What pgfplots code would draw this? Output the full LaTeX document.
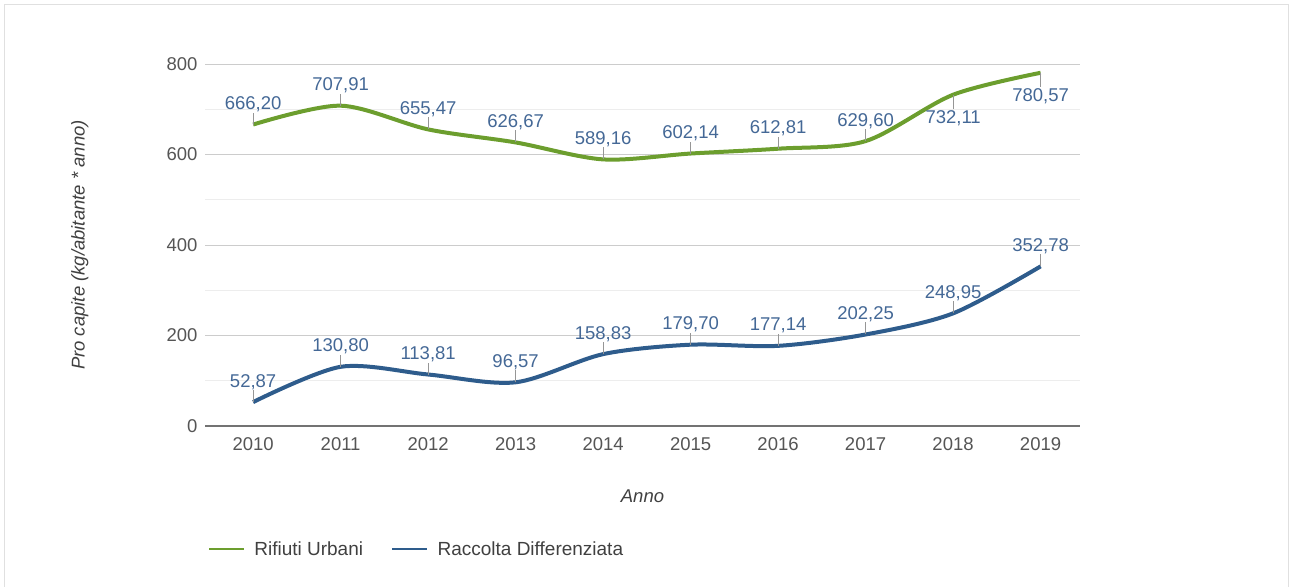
\documentclass[border=0pt]{standalone}
\usepackage{fontspec}
\setmainfont{Liberation Sans}
\usepackage{pgfplots}
\usepackage{pgfplotstable}
\pgfplotsset{compat=1.18}
\definecolor{ruGreen}{RGB}{108,158,46}
\definecolor{rdBlue}{RGB}{46,92,140}
\definecolor{lblBlue}{RGB}{68,104,150}
\definecolor{tickGray}{RGB}{85,85,85}
\definecolor{stemGray}{RGB}{150,150,150}
\pgfdeclareplotmark{stemup}{\pgfpathmoveto{\pgfpoint{0pt}{0pt}}\pgfpathlineto{\pgfpoint{0pt}{12pt}}\pgfusepathqstroke}
\pgfdeclareplotmark{stemdown}{\pgfpathmoveto{\pgfpoint{0pt}{0pt}}\pgfpathlineto{\pgfpoint{0pt}{-14pt}}\pgfusepathqstroke}

\pgfplotstableread{
x y lab
2010 666.20 666,20
2011 707.91 707,91
2012 655.47 655,47
2013 626.67 626,67
2014 589.16 589,16
2015 602.14 602,14
2016 612.81 612,81
2017 629.60 629,60
2018 732.11 732,11
2019 780.57 780,57
}\ruData
\pgfplotstableread{
x y lab
2010 666.20 666,20
2011 707.91 707,91
2012 655.47 655,47
2013 626.67 626,67
2014 589.16 589,16
2015 602.14 602,14
2016 612.81 612,81
2017 629.60 629,60
}\ruAbove
\pgfplotstableread{
x y lab
2018 732.11 732,11
2019 780.57 780,57
}\ruBelow
\pgfplotstableread{
x y lab
2010 52.87 52,87
2011 130.80 130,80
2012 113.81 113,81
2013 96.57 96,57
2014 158.83 158,83
2015 179.70 179,70
2016 177.14 177,14
2017 202.25 202,25
2018 248.95 248,95
2019 352.78 352,78
}\rdData

\begin{document}
\begin{tikzpicture}[x=1pt,y=1pt]
\useasboundingbox (0,0) rectangle (1290,587);
\draw[black!12, line width=1pt] (4,0) -- (4,582) -- (1288,582) -- (1288,0);
\begin{axis}[
  at={(205pt,161pt)}, anchor=south west,
  scale only axis, width=875pt, height=362pt,
  xmin=2009.45, xmax=2019.45,
  ymin=0, ymax=800,
  xtick={2010,...,2019},
  ytick={0,200,...,800},
  minor y tick num=1,
  ymajorgrids, yminorgrids,
  major grid style={draw=black!20, line width=0.9pt},
  minor grid style={draw=black!7, line width=0.9pt},
  axis x line*=bottom, axis y line*=left,
  x axis line style={draw=black!55, line width=2pt, -},
  y axis line style={draw=none},
  major tick length=0pt, minor tick length=0pt,
  /pgf/number format/assume math mode=true,
  /pgf/number format/set thousands separator={},
  xticklabel style={font=\fontsize{18.5}{21}\selectfont, text=tickGray, yshift=-8pt},
  yticklabel style={font=\fontsize{18.5}{21}\selectfont, text=tickGray, xshift=-4pt},
  xlabel={Anno},
  xlabel style={at={(axis description cs:0.5,-0.193)}, anchor=center, font=\fontsize{18.5}{21}\selectfont\itshape, text=black!75},
  ylabel={Pro capite (kg/abitante * anno)},
  ylabel style={at={(axis description cs:-0.143,0.5)}, anchor=center, rotate=0, font=\fontsize{18.5}{21}\selectfont\itshape, text=black!75},
  clip=false,
  legend columns=2,
  legend style={at={(axis description cs:0.003,-0.340)}, anchor=west, draw=none, fill=none, inner sep=0pt,
    font=\fontsize{19}{22}\selectfont, text=black!75,
    /tikz/every odd column/.append style={column sep=9pt},
    /tikz/every even column/.append style={column sep=28pt},
    nodes={inner sep=0pt}},
  legend cell align=left,
  legend image code/.code={\draw[#1, line width=2.5pt] (0pt,0pt) -- (35pt,0pt);},
]
\addplot[ruGreen, line width=4pt, smooth, tension=0.5, no markers] table[x=x,y=y] {\ruData};
\addlegendentry{Rifiuti Urbani}
\addplot[rdBlue, line width=4pt, smooth, tension=0.5, no markers] table[x=x,y=y] {\rdData};
\addlegendentry{Raccolta Differenziata}
\addplot[only marks, mark=stemup, stemGray, line width=0.9pt,
  point meta=explicit symbolic,
  nodes near coords, nodes near coords style={anchor=base, yshift=15pt, inner sep=0pt, text=lblBlue, font=\fontsize{18.5}{21}\selectfont}]
  table[x=x,y=y,meta=lab] {\ruAbove};
\addplot[only marks, mark=stemdown, stemGray, line width=0.9pt,
  point meta=explicit symbolic,
  nodes near coords, nodes near coords style={anchor=base, yshift=-29pt, inner sep=0pt, text=lblBlue, font=\fontsize{18.5}{21}\selectfont}]
  table[x=x,y=y,meta=lab] {\ruBelow};
\addplot[only marks, mark=stemup, stemGray, line width=0.9pt,
  point meta=explicit symbolic,
  nodes near coords, nodes near coords style={anchor=base, yshift=15pt, inner sep=0pt, text=lblBlue, font=\fontsize{18.5}{21}\selectfont}]
  table[x=x,y=y,meta=lab] {\rdData};
\end{axis}
\end{tikzpicture}
\end{document}
